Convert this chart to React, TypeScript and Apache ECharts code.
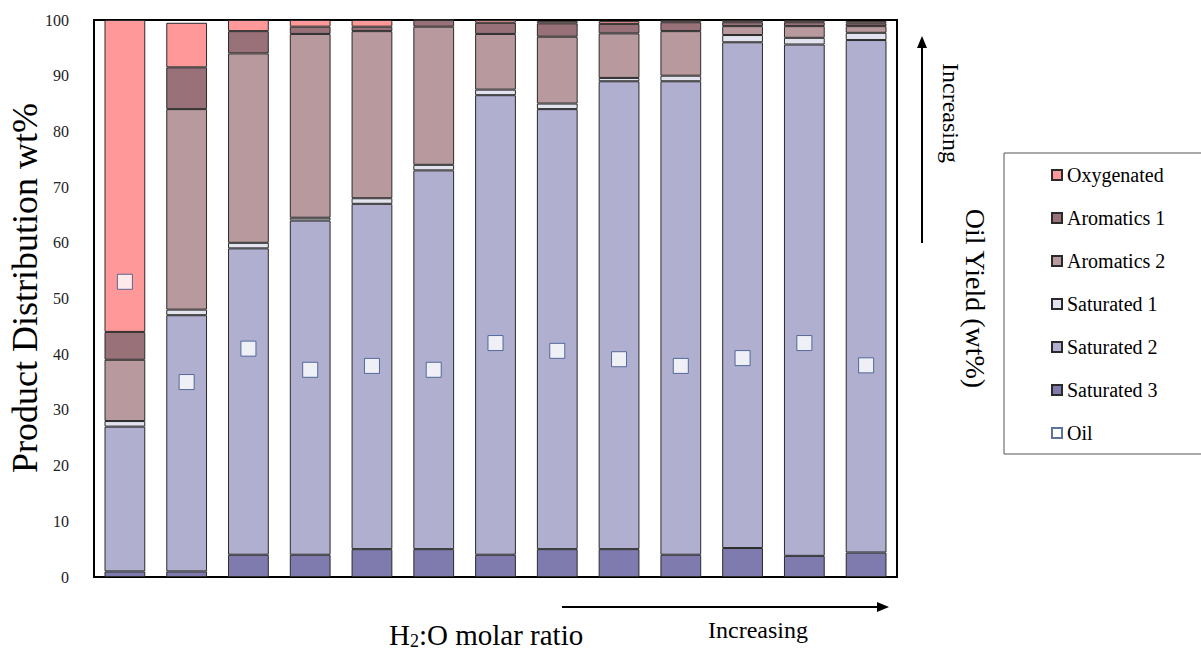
import React, { useEffect, useRef } from "react";
import * as echarts from "echarts";

const categories = ["R1", "R2", "R3", "R4", "R5", "R6", "R7", "R8", "R9", "R10", "R11", "R12", "R13"];
const saturated3 = [1, 1, 4, 4, 5, 5, 4, 5, 5, 4, 5.2, 3.8, 4.4];
const saturated2 = [26, 46, 55, 60, 62, 68, 82.5, 79, 84, 85, 90.8, 91.8, 92];
const saturated1 = [1, 1, 1, 0.5, 1, 1, 1, 1, 0.6, 1, 1.3, 1.2, 1.3];
const aromatics2 = [11, 36, 34, 33, 30, 24.8, 10, 12, 8, 8, 1.6, 2.1, 1.2];
const aromatics1 = [5, 7.5, 4, 1.3, 0.8, 1.2, 2, 2.4, 1.7, 1.6, 0.7, 0.7, 0.5];
const oxygenated = [56, 8, 2, 1.2, 1.2, 0, 0.5, 0.4, 0.5, 0.4, 0.4, 0.4, 0.4];
const oilYield = [53, 35, 41, 37.2, 37.9, 37.2, 42, 40.6, 39.1, 37.9, 39.3, 42, 38];
const yTicks = [0, 10, 20, 30, 40, 50, 60, 70, 80, 90, 100];

const FONT = "'Liberation Serif', 'Times New Roman', serif";

export default function App() {
  const ref = useRef<HTMLDivElement>(null);
  useEffect(() => {
    if (!ref.current) return;
    const chart = echarts.init(ref.current, null, { renderer: "svg" });
    const barSeries = (name: string, data: number[], color: string) => ({
      name,
      type: "bar",
      stack: "total",
      data,
      barCategoryGap: "34%",
      itemStyle: { color, borderColor: "#2a2a2a", borderWidth: 1 },
    });
    chart.setOption({
      animation: false,
      textStyle: { fontFamily: FONT },
      grid: {
        left: 94,
        right: 304,
        top: 20,
        bottom: 76,
        containLabel: false,
        outerBoundsMode: "none",
        show: true,
        borderColor: "#000",
        borderWidth: 2,
        backgroundColor: "transparent",
      },
      legend: {
        orient: "vertical",
        left: 1046,
        top: 160,
        itemWidth: 10,
        itemHeight: 10,
        itemGap: 23,
        textStyle: { fontFamily: FONT, fontSize: 20, color: "#000" },
        data: [
          { name: "Oxygenated", icon: "rect" },
          { name: "Aromatics 1", icon: "rect" },
          { name: "Aromatics 2", icon: "rect" },
          { name: "Saturated 1", icon: "rect" },
          { name: "Saturated 2", icon: "rect" },
          { name: "Saturated 3", icon: "rect" },
          { name: "Oil", icon: "rect" },
        ],
      },
      xAxis: {
        type: "category",
        data: categories,
        axisLabel: { show: false },
        axisTick: { show: false },
        axisLine: { show: false },
      },
      yAxis: [
        {
          type: "value",
          min: 0,
          max: 100,
          interval: 10,
          splitLine: { show: false },
          axisLine: { show: false },
          axisTick: { show: false },
          axisLabel: {
            fontFamily: FONT,
            fontSize: 16,
            color: "#222",
            margin: 25,
            formatter: (v: number) => (yTicks.includes(v) ? String(v) : ""),
          },
        },
        {
          type: "value",
          min: 0,
          max: 100,
          position: "right",
          splitLine: { show: false },
          axisLine: { show: false },
          axisTick: { show: false },
          axisLabel: { show: false },
          name: "Oil Yield (wt%)",
          nameLocation: "middle",
          nameRotate: -90,
          nameGap: 64,
          nameTextStyle: { fontFamily: FONT, fontSize: 28, color: "#000" },
        },
      ],
      series: [
        barSeries("Saturated 3", saturated3, "#7f7bae"),
        barSeries("Saturated 2", saturated2, "#b0afd0"),
        barSeries("Saturated 1", saturated1, "#e3e2ef"),
        barSeries("Aromatics 2", aromatics2, "#b89a9e"),
        barSeries("Aromatics 1", aromatics1, "#987179"),
        barSeries("Oxygenated", oxygenated, "#ff9898"),
        {
          name: "Oil",
          type: "scatter",
          yAxisIndex: 1,
          data: oilYield,
          symbol: "rect",
          symbolSize: 15,
          z: 10,
          itemStyle: { color: "#fff", borderColor: "#34508a", borderWidth: 1 },
        },
      ],
      graphic: [
        {
          type: "text",
          x: 25,
          y: 288,
          rotation: Math.PI / 2,
          style: {
            text: "Product Distribution wt%",
            fontFamily: FONT,
            fontSize: 36,
            fill: "#000",
            align: "center",
            verticalAlign: "middle",
          },
        },
        {
          type: "rect",
          shape: { x: 1004, y: 153, width: 200, height: 301 },
          style: { fill: "none", stroke: "#555", lineWidth: 1 },
        },
        {
          type: "line",
          shape: { x1: 562, y1: 607, x2: 880, y2: 607 },
          style: { stroke: "#000", lineWidth: 2 },
        },
        {
          type: "polygon",
          shape: { points: [[889, 607], [877, 602], [877, 612]] },
          style: { fill: "#000" },
        },
        {
          type: "line",
          shape: { x1: 922, y1: 243, x2: 922, y2: 46 },
          style: { stroke: "#000", lineWidth: 2 },
        },
        {
          type: "polygon",
          shape: { points: [[922, 36], [917, 48], [927, 48]] },
          style: { fill: "#000" },
        },
        {
          type: "text",
          x: 708,
          y: 618,
          style: { text: "Increasing", fontFamily: FONT, fontSize: 24, fill: "#000" },
        },
        {
          type: "text",
          x: 963,
          y: 63,
          rotation: -Math.PI / 2,
          style: { text: "Increasing", fontFamily: FONT, fontSize: 24, fill: "#000" },
        },
        {
          type: "text",
          x: 389,
          y: 620,
          style: {
            text: "H{sub|2}:O molar ratio",
            fontFamily: FONT,
            fontSize: 29,
            fill: "#000",
            rich: {
              sub: { fontFamily: FONT, fontSize: 18, fill: "#000", padding: [12, 0, 0, 0] },
            },
          },
        },
      ],
    });
    return () => chart.dispose();
  }, []);
  return (
    <div
      ref={ref}
      style={{ position: "fixed", left: 0, top: 0, width: 1201, height: 653, background: "#fff" }}
    />
  );
}
